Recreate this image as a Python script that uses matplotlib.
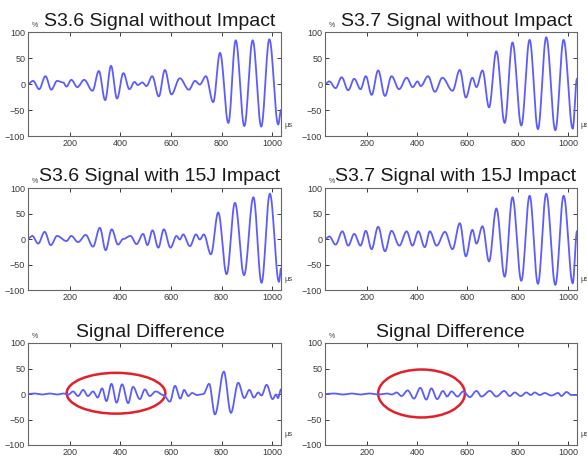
import numpy as np
import matplotlib
matplotlib.use("Agg")
import matplotlib.pyplot as plt
from matplotlib.patches import Ellipse

plt.rcParams['font.family'] = ['Liberation Sans', 'DejaVu Sans']

# peaks / troughs (x in us, y in %)
s36_x = [35, 55, 79, 104, 127, 150, 174, 187, 206, 230, 257, 290, 315, 340, 363, 387, 412, 436, 456, 469,
         487, 503, 526, 552, 576, 602, 635, 671, 695, 714, 738, 767, 794, 827, 856, 890, 923, 957, 989, 1024, 1035]
s36_y = [0, 6, -10, 15, -11, 6, 3, -5, 8, -6, 8, -13, 25, -31, 35, -28, 21, -10, 4, -2,
         3, -4, 15, -24, 27, -20, 11, -11, 6, -1, 15, -35, 60, -75, 84, -81, 84, -82, 86, -78, -50]

s37_x = [35, 52, 77, 101, 127, 151, 176, 197, 220, 246, 273, 299, 329, 359, 383, 402, 415, 444, 471, 501,
         541, 570, 594, 620, 636, 660, 686, 715, 748, 779, 814, 847, 880, 913, 949, 982, 1018, 1035]
s37_y = [0, 5, -8, 13, -12, 10, -10, 15, -21, 26, -23, 15, -10, 12, -6, 5, -4, 15, -15, 12,
         -13, 27, -26, 12, -6, 26, -45, 63, -75, 80, -80, 85, -87, 90, -89, 85, -86, 10]

s36i_x = [35, 52, 75, 101, 125, 150, 187, 206, 233, 263, 292, 319, 342, 366, 391, 411, 440, 464, 490, 507,
          527, 550, 572, 598, 622, 635, 648, 675, 699, 714, 730, 758, 787, 820, 853, 889, 926, 958, 991, 1027, 1035]
s36i_y = [1, 6, -9, 14, -12, 6, -4, 6, -6, 8, -15, 22, -22, 19, -11, 0, 6, -10, 10, -12,
          17, -17, 19, -17, 6, -1, 9, -14, 9, -1, 9, -30, 52, -69, 71, -71, 82, -86, 89, -84, -58]

s37i_x = [35, 52, 77, 104, 127, 151, 176, 197, 220, 246, 273, 299, 330, 359, 382, 405, 431, 451, 478, 511,
          541, 570, 594, 620, 636, 660, 686, 715, 748, 779, 814, 847, 880, 913, 949, 982, 1018, 1035]
s37i_y = [0, 5, -11, 15, -13, 10, -13, 16, -20, 24, -24, 16, -13, 15, -13, 15, -16, 15, -13, 14,
          -20, 31, -34, 18, -9, 25, -44, 60, -74, 82, -82, 85, -88, 89, -90, 85, -87, 15]

d36_x = [35, 60, 90, 120, 150, 175, 195, 213, 233, 253, 272, 292, 310, 328, 345, 365, 385, 407, 431, 450,
         477, 497, 516, 540, 570, 596, 616, 637, 652, 668, 684, 702, 728, 751, 774, 809, 837, 866, 890, 910,
         928, 945, 958, 978, 1002, 1015, 1023, 1035]
d36_y = [0, 1, -1, 1, -1, 1, -1, 5, -4, 8, -4, 5, -7, 11, -14, 20, -17, 19, -18, 14,
         -10, 9, -4, 5, -2, -15, 16, -9, 8, -4, 2, -2, 0, 20, -40, 44, -37, 22, -8, 8,
         -7, 3, -3, 18, -10, -1, -8, 9]

d37_x = [35, 70, 105, 140, 175, 210, 245, 280, 300, 319, 339, 363, 388, 413, 437, 457, 480, 503, 519, 537,
         561, 583, 610, 636, 656, 689, 715, 746, 768, 788, 812, 834, 851, 867, 887, 907, 933, 960, 973, 993,
         1013, 1035]
d37_y = [0, 1, -1, 1, -1, 1, -1, 1, -1, 3, -4, 7, -9, 12, -11, 11, -10, 6, -5, 5,
         -5, 5, -6, 6, -5, 6, -5, 6, -4, 3, -4, 3, -2, 3, -2, 2, -3, 2, -4, 4,
         -2, -2]

titles = ["S3.6 Signal without Impact", "S3.7 Signal without Impact",
          "S3.6 Signal with 15J Impact", "S3.7 Signal with 15J Impact",
          "Signal Difference", "Signal Difference"]
xticks = [200, 400, 600, 800, 1000]
yticks = [-100, -50, 0, 50, 100]


def smooth_wave(xs, ys, n=16):
    # half-cosine between neighbouring extrema so it looks like the scope trace
    px, py = [], []
    for i in range(len(xs) - 1):
        t = np.linspace(0, 1, n, endpoint=False)
        s = (1 - np.cos(np.pi * t)) / 2
        px.extend(xs[i] + (xs[i + 1] - xs[i]) * t)
        py.extend(ys[i] + (ys[i + 1] - ys[i]) * s)
    px.append(xs[-1])
    py.append(ys[-1])
    return px, py


W, H = 587, 459
fig = plt.figure(figsize=(W / 100, H / 100), dpi=100)

# axes boxes in pixels: left, top, right, bottom
boxes = [(28, 32, 281, 136), (325, 32, 577, 136),
         (28, 188, 281, 290), (325, 188, 577, 290),
         (28, 343, 281, 445), (325, 343, 577, 445)]
title_pos = [(160, 26), (457, 26), (160, 181), (456, 181), (150, 337), (450, 337)]
data = [(s36_x, s36_y), (s37_x, s37_y), (s36i_x, s36i_y), (s37i_x, s37i_y), (d36_x, d36_y), (d37_x, d37_y)]

axes = []
for i in range(6):
    l, t, r, b = boxes[i]
    ax = fig.add_axes([l / W, 1 - b / H, (r - l) / W, (b - t) / H])
    xs, ys = smooth_wave(*data[i])
    ax.plot(xs, ys, color='#5c5cff', lw=1.3)
    ax.set_xlim(35, 1035)
    ax.set_ylim(-100, 100)
    ax.set_xticks(xticks)
    ax.set_yticks(yticks)
    ax.tick_params(direction='in', top=True, right=True, length=3, width=0.7,
                   labelsize=6.5, colors='#3a3a3a', pad=2)
    for sp in ax.spines.values():
        sp.set_color('#666666')
        sp.set_linewidth(0.8)
    ax.text(0.015, 1.03, '%', transform=ax.transAxes, fontsize=5, color='#444444', ha='left', va='bottom')
    ax.text(1.012, 0.1, 'µs', transform=ax.transAxes, fontsize=5.5, color='#444444', ha='left', va='center')
    tx, ty = title_pos[i]
    fig.text(tx / W, 1 - ty / H, titles[i], fontsize=14, color='#1a1a1a', ha='center', va='baseline')
    axes.append(ax)

# red circles around the damage echo
axes[4].add_patch(Ellipse((383, 1.5), 390, 80, fill=False, edgecolor='#e3202a', lw=1.8, clip_on=False))
axes[5].add_patch(Ellipse((418, 1), 344, 94, fill=False, edgecolor='#e3202a', lw=1.8, clip_on=False))

fig.savefig('out.png', dpi=100)
